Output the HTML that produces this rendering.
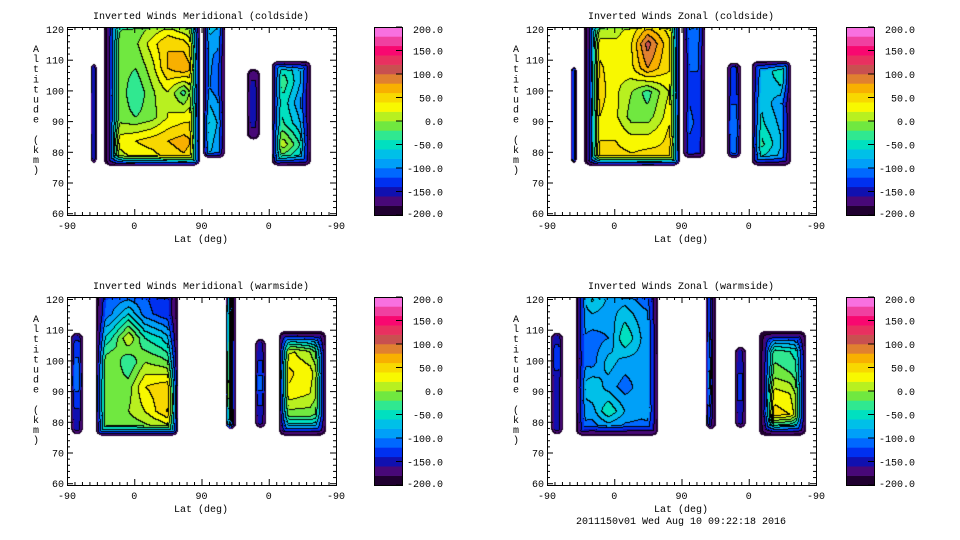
<!DOCTYPE html>
<html><head><meta charset="utf-8"><style>
html,body{margin:0;padding:0;background:#fff;width:960px;height:540px;overflow:hidden}
#wrap{position:relative;width:960px;height:540px}
canvas{position:absolute}
svg{position:absolute;left:0;top:0}
text{font-family:"Liberation Mono",monospace;font-size:10px;fill:#000}
</style></head><body>
<div id="wrap">
<canvas id="c0" width="269" height="188" style="left:67px;top:27px"></canvas>
<canvas id="c1" width="269" height="188" style="left:547px;top:27px"></canvas>
<canvas id="c2" width="269" height="188" style="left:67px;top:297px"></canvas>
<canvas id="c3" width="269" height="188" style="left:547px;top:297px"></canvas>
<svg id="ov" width="960" height="540"></svg>
</div>
<script>
// ---- data ----
const levelColors = ["#200030","#480878","#1010b0","#0030f0","#0068ff","#00a0f8","#00c0e8","#00e0c0","#30e890","#70e840",
 "#b8f020","#f8f800","#f8d800","#f8b000","#e08030","#c85050","#e83060","#f80870","#f040a0","#f870e0"];
const colorbarTicks = [200,150,100,50,0,-50,-100,-150,-200];
const xTickLabels = ["-90","0","90","0","-90"];
const xTickPos = [0,90,180,270,360];
const yTicks = [60,70,80,90,100,110,120];
const titles = ["Inverted Winds Meridional (coldside)","Inverted Winds Zonal (coldside)",
                "Inverted Winds Meridional (warmside)","Inverted Winds Zonal (warmside)"];
// regions: s range (axis position 0..360), altitude range, value grid (rows top->bottom)
const regionsMerCold = [
 {s:[32,40],alt:[76,109],grid:[[-150],[-140],[-150]]},
 {s:[49.5,178],alt:[75.5,123],grid:[
  [-180,-30,-20,-10,0,-20,-40],[-180,-10,-5,30,60,50,10],[-180,-10,-20,10,60,80,40],[-180,-5,-40,-5,20,-30,50],
  [-180,-10,-20,-10,20,30,40],[-180,30,40,50,60,70,50],[-180,0,20,20,40,50,30]]},
 {s:[182,211.5],alt:[78,123],grid:[[-60,-80],[-90,-110],[-90,-120],[-40,-100],[-60,-120]]},
 {s:[241,258],alt:[84,107],grid:[[-170],[-150],[-150],[-170]]},
 {s:[274,326.5],alt:[75.5,109.5],grid:[[-60,-60,-70,-90],[-40,-30,-70,-110],[-40,-50,-90,-130],
  [-20,-40,-70,-110],[20,10,-30,-90],[-50,-60,-80,-100]]}
];
const regionsZonCold = [
 {s:[32,40],alt:[76,108],grid:[[-130],[-130]]},
 {s:[49.5,178],alt:[75.5,123],grid:[
  [-180,-20,0,20,30,30,0],[-180,30,25,40,110,60,20],[-180,45,25,35,80,50,30],[-180,50,25,0,-30,10,40],
  [-180,40,25,-10,-10,20,60],[-180,40,40,30,30,40,70],[-180,50,50,50,60,50,30]]},
 {s:[182,211.5],alt:[78,123],grid:[[-90,-100],[-120,-110],[-120,-130],[-110,-130],[-120,-140]]},
 {s:[241,259.6],alt:[78,109],grid:[[-140],[-130],[-100],[-120]]},
 {s:[274,326.5],alt:[75.5,109.5],grid:[[-90,-80,-40,-10],[-80,-70,-60,-20],[-40,-70,-90,-110],
  [-30,-60,-80,-100],[-10,-40,-70,-100],[-80,-80,-90,-120]]}
];
const regionsMerWarm = [
 {s:[5.4,21.4],alt:[76,109],grid:[[-150],[-120],[-110],[-140],[-150]]},
 {s:[38.8,148.6],alt:[75.5,123],grid:[
  [-140,-120,-130,-120,-140,-140],[-130,-100,-60,-110,-130,-140],[-80,-40,20,-40,-60,-100],
  [-10,0,-40,0,-10,-30],[10,-10,-10,40,50,60],[0,0,0,20,50,80],[-20,-20,-20,-20,-20,0]]},
 {s:[212.8,226],alt:[77.5,123],grid:[[-40,-180],[30,-180],[50,-180],[80,-180],[-20,-180]]},
 {s:[251.6,266.3],alt:[78,107],grid:[[-160],[-140],[-110],[-140],[-160]]},
 {s:[283.7,346.6],alt:[75.5,109.5],grid:[[-150,-150,-150,-160],[10,20,0,-60],[60,40,30,-20],
  [40,30,20,-20],[-10,-10,-10,-40],[-120,-120,-120,-140]]}
];
const regionsZonWarm = [
 {s:[5.4,21.4],alt:[76,109],grid:[[-150],[-130],[-150],[-150],[-150]]},
 {s:[38.8,148.6],alt:[75.5,123],grid:[
  [-110,-40,-80,-100,-120,-130],[-100,-80,-90,-70,-90,-110],[-90,-110,-100,-40,-80,-100],
  [-100,-110,-70,-90,-90,-90],[-90,-60,-90,-110,-90,-90],[-90,-90,-40,-80,-90,-80],
  [-110,-120,-120,-120,-120,-120]]},
 {s:[212.8,226],alt:[77.5,123],grid:[[-100,-190],[-80,-190],[-40,-190],[-120,-190]]},
 {s:[251.6,266.3],alt:[78,104.5],grid:[[-160],[-140],[-140],[-160]]},
 {s:[283.7,346.6],alt:[75.5,109.5],grid:[[-180,-150,-150,-160],[-180,-30,-40,-60],[-180,-10,-20,-50],
  [-180,30,20,-40],[-180,50,40,-40],[-180,-120,-130,-150]]}
];
const panelRegions = [regionsMerCold,regionsZonCold,regionsMerWarm,regionsZonWarm];

// ---- layout ----
const panelOrigins = [[67,27],[547,27],[67,297],[547,297]];
const PW=269, PH=188;
function xOf(s){return s*0.7472;}          // local px
function yOf(a){return 2+(120-a)*3.07;}   // local px
function bandOf(v){let b=Math.floor((v+200)/20);return Math.max(0,Math.min(19,b));}
function hex(c){return [parseInt(c.slice(1,3),16),parseInt(c.slice(3,5),16),parseInt(c.slice(5,7),16)];}
const rgb = levelColors.map(hex);

function sample(reg,px,py){
  const x0=xOf(reg.s[0]),x1=xOf(reg.s[1]),y0=yOf(reg.alt[1]),y1=yOf(reg.alt[0]);
  const r=6;
  const dx=Math.max(x0+r-px,px-(x1-r)), dy=Math.max(y0+r-py,py-(y1-r));
  const out=Math.hypot(Math.max(dx,0),Math.max(dy,0)), ins=Math.min(Math.max(dx,dy),0);
  const d=-(out+ins-r);
  if(d<=0) return null;
  const g=reg.grid, nr=g.length, nc=g[0].length;
  let u=(px-x0)/(x1-x0)*(nc-1), v=(py-y0)/(y1-y0)*(nr-1);
  u=Math.max(0,Math.min(nc-1,u)); v=Math.max(0,Math.min(nr-1,v));
  const i=Math.min(Math.floor(u),Math.max(nc-2,0)), j=Math.min(Math.floor(v),Math.max(nr-2,0));
  const fu=nc>1?u-i:0, fv=nr>1?v-j:0;
  const g00=g[j][i], g01=g[j][Math.min(i+1,nc-1)], g10=g[Math.min(j+1,nr-1)][i], g11=g[Math.min(j+1,nr-1)][Math.min(i+1,nc-1)];
  const val=(g00*(1-fu)+g01*fu)*(1-fv)+(g10*(1-fu)+g11*fu)*fv;
  const F=Math.min(10,(x1-x0)*0.3);
  const t=Math.min(1,d/F);
  return {v:-205+(val+205)*Math.pow(t,0.8), edge:t<1};
}

panelRegions.forEach((regs,k)=>{
  const cv=document.getElementById('c'+k), ctx=cv.getContext('2d');
  const bands=new Int8Array(PW*PH).fill(-1), edge=new Uint8Array(PW*PH);
  for(let y=0;y<PH;y++)for(let x=0;x<PW;x++){
    for(const reg of regs){const v=sample(reg,x+0.5,y+0.5);if(v!==null){bands[y*PW+x]=bandOf(v.v);edge[y*PW+x]=v.edge?1:0;break;}}
  }
  const img=ctx.createImageData(PW,PH);
  for(let y=0;y<PH;y++)for(let x=0;x<PW;x++){
    const i=y*PW+x,b=bands[i];let c=[255,255,255];
    if(b>=0){c=rgb[b];
      const br=x<PW-1?bands[i+1]:b, bd=y<PH-1?bands[i+PW]:b;
      const diff=(br>=0&&br!==b)||(bd>=0&&bd!==b);
      if(diff&&(!edge[i]||b%2===0)) c=[0,0,0];}
    img.data[i*4]=c[0];img.data[i*4+1]=c[1];img.data[i*4+2]=c[2];img.data[i*4+3]=255;
  }
  ctx.putImageData(img,0,0);
});

// ---- overlay ----
const NS="http://www.w3.org/2000/svg", ov=document.getElementById('ov');
function mk(tag,attrs,parent,txt){const e=document.createElementNS(NS,tag);for(const a in attrs)e.setAttribute(a,attrs[a]);if(txt!==undefined)e.textContent=txt;(parent||ov).appendChild(e);return e;}
panelOrigins.forEach(([ox,oy],k)=>{
  const g=mk('g',{});
  
  
  const fr=mk('rect',{x:ox+0.5,y:oy+0.5,width:PW,height:PH,fill:'none',stroke:'#000'},g);
  
  
  const t=mk('text',{x:ox+134,y:oy-8,'text-anchor':'middle'},g,titles[k]);
  
  
  for(let s=0;s<=360;s+=10){const X=ox+xOf(s)+0.5,L=(s%90===0)?6:3;
    mk('line',{x1:X,x2:X,y1:oy+PH,y2:oy+PH-L,stroke:'#000'},g);mk('line',{x1:X,x2:X,y1:oy,y2:oy+L,stroke:'#000'},g);}
  xTickPos.forEach((s,i)=>{const tl=mk('text',{x:ox+xOf(s),y:oy+PH+14,'text-anchor':'middle'},g,xTickLabels[i]);
    
    });
  for(let a=60;a<=120;a+=2){const Y=oy+yOf(a)+0.5,L=(a%10===0)?6:3;
    mk('line',{x1:ox,x2:ox+L,y1:Y,y2:Y,stroke:'#000'},g);mk('line',{x1:ox+PW,x2:ox+PW-L,y1:Y,y2:Y,stroke:'#000'},g);}
  yTicks.forEach(a=>{const yl=mk('text',{x:ox-3,y:oy+yOf(a)+4,'text-anchor':'end'},g,String(a));
    
    });
  const xt=mk('text',{x:ox+134,y:oy+PH+27,'text-anchor':'middle'},g,'Lat (deg)');
  
  
  const yt=mk('g',{},g);
  
  
  "Altitude (km)".split('').forEach((ch,i)=>{if(ch!==' ')mk('text',{x:ox-31,y:oy+25+i*10.1,'text-anchor':'middle'},yt,ch);});
  // colorbar
  const cbx=ox+(k%2===0?307:299), cb=mk('g',{},g);
  
  
  const bh=PH/levelColors.length;
  levelColors.forEach((c,i)=>{const r=mk('rect',{x:cbx,y:oy+PH-(i+1)*bh,width:28,height:bh+0.3,fill:c},cb);
    
    });
  mk('rect',{x:cbx+0.5,y:oy+0.5,width:28,height:PH,fill:'none',stroke:'#000'},cb);
  colorbarTicks.forEach(v=>{const Y=oy+PH-(v+200)/400*PH;
    mk('line',{x1:cbx+22,x2:cbx+28,y1:Y,y2:Y,stroke:'#000'},cb);
    const l=mk('text',{x:cbx+69,y:Math.min(Math.max(Y+4,oy+6),oy+PH+2),'text-anchor':'end'},cb,v.toFixed(1));
    
    });
});
const ft=mk('text',{x:681,y:524,'text-anchor':'middle'},ov,'2011150v01 Wed Aug 10 09:22:18 2016');


</script>
</body></html>
